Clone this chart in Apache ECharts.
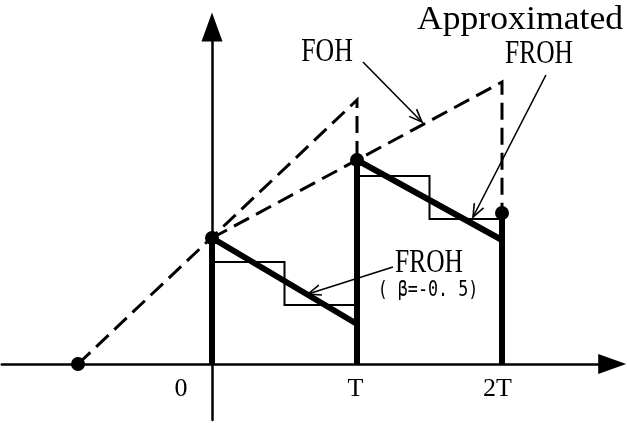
<!DOCTYPE html>
<html>
<head>
<meta charset="utf-8">
<script src="https://cdn.jsdelivr.net/npm/echarts@6/dist/echarts.min.js"></script>
<style>
  html, body { margin: 0; padding: 0; background: #fff; }
  #chart { width: 627px; height: 423px; }
</style>
</head>
<body>
<div id="chart"></div>
<script>
  // sample instants (in T) and sampled values
  const sampleT = [-0.924, 0, 1, 2]
  const sampleVal = [0, 126, 204, 151]
  // FOH extrapolated value reached at the end of each period (T, 2T)
  const fohPeak = [264, 282]
  // FROH (beta = -0.5) value at the end of each period
  const frohEnd = [40, 124]
  // approximated FROH: two levels per period, switching at half period
  const stairLevels = [[102, 59], [188, 145]]
  const stairSwitch = [0.5, 1.5]
  // x tick labels
  const tickVals = [0, 1, 2]
  const tickText = ['0', 'T', '2T']
  // annotation arrows: tail -> tip
  const arrowFrom = [[1.041, 302], [2.303, 289], [1.248, 97]]
  const arrowTo = [[1.448, 242], [1.8, 147], [0.662, 70]]

  const ink = '#000'
  const serif = 'Liberation Serif'
  const mono = 'DejaVu Sans Mono'

  const foh = [
    [[sampleT[0], sampleVal[0]], [sampleT[2], fohPeak[0]], [sampleT[2], sampleVal[2]]],
    [[sampleT[1], sampleVal[1]], [sampleT[3], fohPeak[1]], [sampleT[3], sampleVal[3]]],
  ]
  const froh = [
    [[sampleT[1], 0], [sampleT[1], sampleVal[1]], [sampleT[2], frohEnd[0]]],
    [[sampleT[2], 0], [sampleT[2], sampleVal[2]], [sampleT[3], frohEnd[1]]],
    [[sampleT[3], 0], [sampleT[3], sampleVal[3]]],
  ]
  const stairs = stairLevels.map((lv, i) => {
    const a = sampleT[i + 1], b = sampleT[i + 2], m = stairSwitch[i]
    return [[a, lv[0]], [m, lv[0]], [m, lv[1]], [b, lv[1]]]
  })

  const lineSeries = (pts, style) => ({
    type: 'line',
    data: pts,
    symbol: 'none',
    showSymbol: false,
    animation: false,
    silent: true,
    lineStyle: Object.assign({ color: ink, cap: 'butt', join: 'miter', opacity: 1 }, style),
  })

  const series = []
  foh.forEach(p => series.push(lineSeries(p, { width: 3, type: [17, 8] })))
  stairs.forEach(p => series.push(lineSeries(p, { width: 2 })))
  froh.forEach(p => series.push(lineSeries(p, { width: 6 })))
  series.push({
    type: 'scatter',
    data: sampleT.map((t, i) => [t, sampleVal[i]]),
    symbol: 'circle',
    symbolSize: 14,
    itemStyle: { color: ink, opacity: 1 },
    animation: false,
    silent: true,
    z: 5,
  })
  // tick labels under the time axis
  const tickShift = [-31, -1.5, -4.5]
  series.push({
    type: 'scatter',
    data: tickVals.map((v, i) => ({
      value: [v, 0],
      label: { formatter: tickText[i], offset: [tickShift[i], 25] },
    })),
    symbolSize: 0,
    itemStyle: { color: ink, opacity: 1 },
    animation: false,
    silent: true,
    label: {
      show: true,
      position: 'inside',
      color: ink,
      opacity: 1,
      fontFamily: serif,
      fontSize: 26,
      align: 'center',
      verticalAlign: 'middle',
    },
  })
  series.push({
    type: 'custom',
    data: arrowFrom.map((f, i) => [f[0], f[1], arrowTo[i][0], arrowTo[i][1]]),
    encode: { x: [0, 2], y: [1, 3] },
    animation: false,
    silent: true,
    renderItem: function (params, api) {
      const p0 = api.coord([api.value(0), api.value(1)])
      const p1 = api.coord([api.value(2), api.value(3)])
      const ang = Math.atan2(p1[1] - p0[1], p1[0] - p0[0])
      const L = 14, a = 0.38
      const h1 = [p1[0] - L * Math.cos(ang - a), p1[1] - L * Math.sin(ang - a)]
      const h2 = [p1[0] - L * Math.cos(ang + a), p1[1] - L * Math.sin(ang + a)]
      const st = { stroke: ink, lineWidth: 1.6, fill: null }
      return {
        type: 'group',
        children: [
          { type: 'line', shape: { x1: p0[0], y1: p0[1], x2: p1[0], y2: p1[1] }, style: st },
          { type: 'polyline', shape: { points: [h1, p1, h2] }, style: st },
        ],
      }
    },
  })

  const label = (text, x, y, size, sx, font) => ({
    type: 'text',
    x: x,
    y: y,
    scaleX: sx,
    silent: true,
    style: {
      text: text,
      font: size + 'px "' + (font || serif) + '"',
      fill: ink,
      align: 'center',
      verticalAlign: 'middle',
    },
  })

  const options = {
    backgroundColor: '#fff',
    animation: false,
    grid: {
      left: 1.75,
      right: 14.8,
      top: 27,
      bottom: 3,
      containLabel: false,
      outerBoundsMode: 'none',
    },
    xAxis: {
      type: 'value',
      min: -1.45,
      max: 2.76,
      splitLine: { show: false },
      axisTick: { show: false },
      axisLabel: { show: false },
      axisLine: {
        onZero: true,
        symbol: ['none', 'triangle'],
        symbolSize: [20, 28],
        lineStyle: { color: ink, width: 2.5 },
      },
    },
    yAxis: {
      type: 'value',
      min: -56,
      max: 337,
      splitLine: { show: false },
      axisTick: { show: false },
      axisLabel: { show: false },
      axisLine: {
        onZero: true,
        symbol: ['none', 'triangle'],
        symbolSize: [21, 29],
        lineStyle: { color: ink, width: 2.5 },
      },
    },
    graphic: [
      label('FOH', 327, 52, 34, 0.76),
      label('Approximated', 520, 20, 34, 1.05),
      label('FROH', 539, 54, 34, 0.75),
      label('FROH', 429, 263, 34, 0.75),
      label('( β=-0. 5)', 428, 290, 22, 0.76, mono),
    ],
    series: series,
  }

  const chart = echarts.init(document.getElementById('chart'))
  chart.setOption(options)
  window.addEventListener('resize', function () {
    chart && chart.resize()
  })
</script>
</body>
</html>
